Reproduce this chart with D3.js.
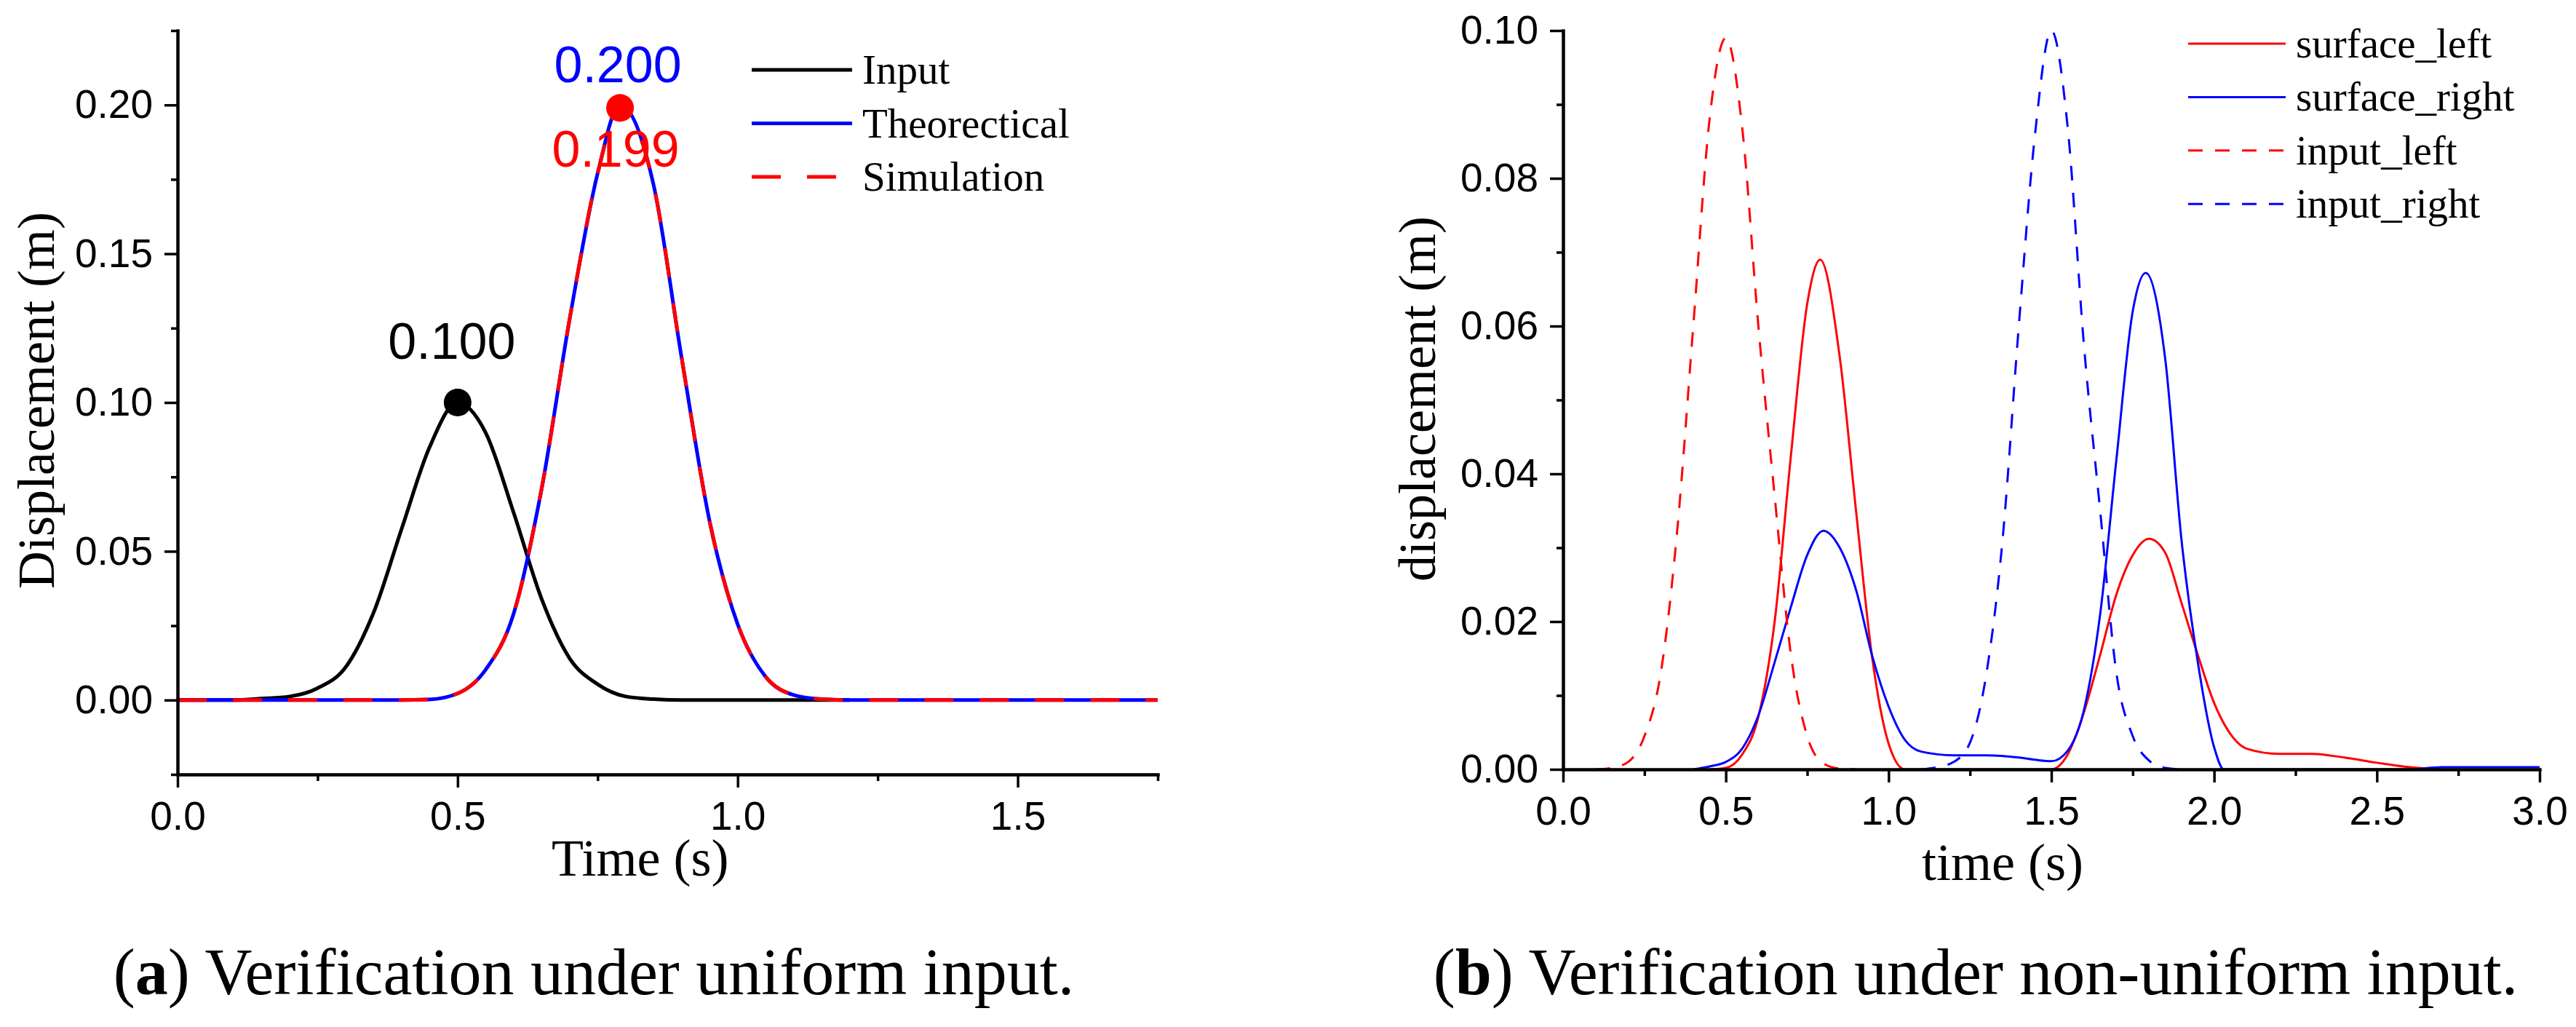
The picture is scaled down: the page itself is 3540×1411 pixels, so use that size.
<!DOCTYPE html>
<html>
<head>
<meta charset="utf-8">
<script src="https://cdn.jsdelivr.net/npm/d3@7"></script>
<style>
  body { margin: 0; background: #fff; }
</style>
</head>
<body>
<div id="chart"></div>
<script>
// ---- panel (a): uniform input ----
let timeInputA = [0, 0.10, 0.15, 0.20, 0.25, 0.30, 0.35, 0.40, 0.45, 0.50, 0.55, 0.60, 0.65, 0.70, 0.75, 0.80, 0.85, 0.90, 1.00, 1.20];
let inputA     = [0, 0, 0.0005, 0.0012, 0.004, 0.011, 0.0294, 0.0575, 0.085, 0.100, 0.0899, 0.063, 0.034, 0.014, 0.0053, 0.0012, 0.0003, 0, 0, 0];

let timeTheoA = [0, 0.40, 0.45, 0.50, 0.55, 0.60, 0.65, 0.70, 0.75, 0.79, 0.85, 0.90, 0.95, 1.00, 1.05, 1.10, 1.15, 1.20, 1.75];
let theoA     = [0, 0, 0.0002, 0.0022, 0.0102, 0.029, 0.071, 0.128, 0.177, 0.200, 0.173, 0.115, 0.060, 0.0255, 0.0078, 0.0017, 0.0003, 0, 0];
let simA      = [0, 0, 0.0002, 0.0022, 0.0102, 0.029, 0.071, 0.128, 0.177, 0.199, 0.173, 0.115, 0.060, 0.0255, 0.0078, 0.0017, 0.0003, 0, 0];

let peakInputA = {t: 0.50, v: 0.100, label: "0.100"};
let peakTheoA  = {t: 0.79, v: 0.200, label: "0.200"};
let peakSimA   = {t: 0.79, v: 0.199, label: "0.199"};

let xTicksA = [0, 0.5, 1.0, 1.5];
let xMinorA = [0.25, 0.75, 1.25, 1.75];
let yTicksA = [0, 0.05, 0.10, 0.15, 0.20];
let yMinorA = [-0.025, 0.025, 0.075, 0.125, 0.175, 0.225];
let legendA = ["Input", "Theorectical", "Simulation"];

// ---- panel (b): non-uniform input ----
let timeInputL = [0.10, 0.15, 0.20, 0.25, 0.30, 0.35, 0.40, 0.45, 0.50, 0.55, 0.60, 0.65, 0.70, 0.75, 0.80, 0.85, 0.90];
let inputLeft  = [0, 0.0002, 0.001, 0.0045, 0.013, 0.032, 0.060, 0.088, 0.099, 0.087, 0.060, 0.037, 0.0155, 0.0045, 0.0008, 0.0001, 0];

let timeInputR = [1.10, 1.15, 1.20, 1.25, 1.30, 1.35, 1.40, 1.45, 1.50, 1.55, 1.60, 1.65, 1.70, 1.75, 1.80, 1.85, 1.90];
let inputRight = [0, 0.0003, 0.001, 0.0036, 0.0128, 0.031, 0.060, 0.086, 0.100, 0.087, 0.0575, 0.035, 0.013, 0.0045, 0.0012, 0.0002, 0];

let timeSurfL   = [0.45, 0.50, 0.55, 0.60, 0.65, 0.70, 0.75, 0.79, 0.85, 0.90, 0.95, 1.00, 1.05, 1.50, 1.55, 1.60, 1.65, 1.70, 1.75, 1.80, 1.85, 1.90, 1.95, 2.00, 2.05, 2.10, 2.20, 2.30, 2.40, 2.50, 2.60, 2.70];
let surfaceLeft = [0, 0.0002, 0.002, 0.0071, 0.020, 0.0425, 0.063, 0.069, 0.0558, 0.035, 0.015, 0.0035, 0, 0, 0.002, 0.0077, 0.0155, 0.0237, 0.029, 0.0312, 0.0293, 0.0225, 0.0155, 0.009, 0.0048, 0.0028, 0.0021, 0.0021, 0.0016, 0.0009, 0.0003, 0];

let timeSurfR    = [0.40, 0.45, 0.50, 0.55, 0.60, 0.65, 0.70, 0.75, 0.80, 0.85, 0.90, 0.95, 1.00, 1.05, 1.10, 1.20, 1.30, 1.40, 1.45, 1.50, 1.55, 1.60, 1.65, 1.70, 1.75, 1.79, 1.85, 1.90, 1.95, 2.00, 2.03, 2.60, 2.70, 3.00];
let surfaceRight = [0, 0.0004, 0.001, 0.0028, 0.0073, 0.0145, 0.022, 0.029, 0.0323, 0.030, 0.0243, 0.0153, 0.0085, 0.004, 0.0024, 0.0019, 0.0019, 0.0016, 0.0013, 0.0011, 0.0025, 0.008, 0.021, 0.042, 0.062, 0.0672, 0.0555, 0.031, 0.0145, 0.003, 0, 0, 0.0003, 0.0003];

let xTicksB = [0, 0.5, 1.0, 1.5, 2.0, 2.5, 3.0];
let xMinorB = [0.25, 0.75, 1.25, 1.75, 2.25, 2.75];
let yTicksB = [0, 0.02, 0.04, 0.06, 0.08, 0.10];
let yMinorB = [0.01, 0.03, 0.05, 0.07, 0.09];
let legendB = ["surface_left", "surface_right", "input_left", "input_right"];

const SANS = "'Liberation Sans', Arial, sans-serif";
const SERIF = "'Liberation Serif', 'Times New Roman', serif";

let svg = d3.select("#chart").append("svg")
    .attr("width", 3540)
    .attr("height", 1411)
    .style("background", "#fff");

function zip(ts, vs) {
    return ts.map((t, i) => ({t: t, v: vs[i]}));
}

function drawLine(g, x, y, pts, color, width, dash) {
    let line = d3.line()
        .x(d => x(d.t))
        .y(d => y(d.v))
        .curve(d3.curveMonotoneX);
    g.append("path")
        .datum(pts)
        .attr("d", line)
        .attr("fill", "none")
        .attr("stroke", color)
        .attr("stroke-width", width)
        .attr("stroke-dasharray", dash || null)
        .attr("stroke-linejoin", "round");
}

function drawAxes(g, x, y, xt, xm, yt, ym, yFmt) {
    let y0 = y.range()[0];
    let x0 = x.range()[0];

    // minor ticks
    g.append("g").attr("transform", `translate(0,${y0})`)
        .call(d3.axisBottom(x).tickValues(xm).tickSize(9).tickSizeOuter(0).tickFormat(""));
    g.append("g").attr("transform", `translate(${x0},0)`)
        .call(d3.axisLeft(y).tickValues(ym).tickSize(9).tickSizeOuter(0).tickFormat(""));

    // major ticks and labels
    g.append("g").attr("transform", `translate(0,${y0})`)
        .call(d3.axisBottom(x).tickValues(xt).tickSize(18).tickSizeOuter(0).tickPadding(19).tickFormat(d3.format(".1f")));
    g.append("g").attr("transform", `translate(${x0},0)`)
        .call(d3.axisLeft(y).tickValues(yt).tickSize(18).tickSizeOuter(0).tickPadding(16).tickFormat(d3.format(yFmt)));

    g.selectAll(".domain").attr("stroke", "#000").attr("stroke-width", 4).attr("stroke-linecap", "square");
    g.selectAll(".tick line").attr("stroke", "#000").attr("stroke-width", 3.5);
    g.selectAll(".tick text")
        .attr("fill", "#000")
        .style("font-family", SANS)
        .style("font-size", "55px");
}

function drawLegend(g, x0, x1, xText, yStart, step, items) {
    items.forEach((it, i) => {
        let yy = yStart + i * step;
        g.append("line")
            .attr("x1", x0).attr("x2", x1)
            .attr("y1", yy).attr("y2", yy)
            .attr("stroke", it.color)
            .attr("stroke-width", it.width)
            .attr("stroke-dasharray", it.dash || null);
        g.append("text")
            .attr("x", xText).attr("y", yy + 19)
            .style("font-family", SERIF)
            .style("font-size", "57px")
            .text(it.name);
    });
}

function drawPanelA() {
    let g = svg.append("g");
    let x = d3.scaleLinear().domain([0, 1.75]).range([244, 1591]);
    let y = d3.scaleLinear().domain([-0.025, 0.225]).range([1064, 42]);

    drawLine(g, x, y, zip(timeInputA, inputA), "#000", 5);
    drawLine(g, x, y, zip(timeTheoA, theoA), "#0000ff", 5);
    drawLine(g, x, y, zip(timeTheoA, simA), "#ff0000", 5, "40,36");

    drawAxes(g, x, y, xTicksA, xMinorA, yTicksA, yMinorA, ".2f");

    // peak markers
    g.append("circle").attr("cx", x(peakInputA.t)).attr("cy", y(peakInputA.v)).attr("r", 19).attr("fill", "#000");
    g.append("circle").attr("cx", x(peakSimA.t)).attr("cy", y(peakSimA.v)).attr("r", 19).attr("fill", "#ff0000");

    g.append("text")
        .attr("x", x(peakInputA.t) - 8).attr("y", y(peakInputA.v) - 60)
        .attr("text-anchor", "middle")
        .style("font-family", SANS).style("font-size", "70px")
        .attr("fill", "#000")
        .text(peakInputA.label);
    g.append("text")
        .attr("x", x(peakTheoA.t) - 3).attr("y", y(peakTheoA.v) - 31)
        .attr("text-anchor", "middle")
        .style("font-family", SANS).style("font-size", "70px")
        .attr("fill", "#0000ff")
        .text(peakTheoA.label);
    g.append("text")
        .attr("x", x(peakSimA.t) - 6).attr("y", y(peakSimA.v) + 81)
        .attr("text-anchor", "middle")
        .style("font-family", SANS).style("font-size", "70px")
        .attr("fill", "#ff0000")
        .text(peakSimA.label);

    // axis titles
    g.append("text")
        .attr("x", 758).attr("y", 1203)
        .style("font-family", SERIF).style("font-size", "72px")
        .text("Time (s)");
    g.append("text")
        .attr("transform", "translate(74,550) rotate(-90)")
        .attr("text-anchor", "middle")
        .style("font-family", SERIF).style("font-size", "72px")
        .text("Displacement (m)");

    drawLegend(g, 1033, 1171, 1185, 96, 73.5, [
        {name: legendA[0], color: "#000", width: 5},
        {name: legendA[1], color: "#0000ff", width: 5},
        {name: legendA[2], color: "#ff0000", width: 5, dash: "40,36"}
    ]);

    let cap = g.append("text")
        .attr("x", 816).attr("y", 1366)
        .attr("text-anchor", "middle")
        .style("font-family", SERIF).style("font-size", "90px");
    cap.append("tspan").text("(");
    cap.append("tspan").attr("font-weight", "bold").text("a");
    cap.append("tspan").text(") Verification under uniform input.");
}

function drawPanelB() {
    let g = svg.append("g");
    let x = d3.scaleLinear().domain([0, 3]).range([2148, 3490]);
    let y = d3.scaleLinear().domain([0, 0.10]).range([1057, 42]);

    drawLine(g, x, y, zip(timeSurfL, surfaceLeft), "#ff0000", 3);
    drawLine(g, x, y, zip(timeSurfR, surfaceRight), "#0000ff", 3);
    drawLine(g, x, y, zip(timeInputL, inputLeft), "#ff0000", 3, "20,17");
    drawLine(g, x, y, zip(timeInputR, inputRight), "#0000ff", 3, "20,17");

    drawAxes(g, x, y, xTicksB, xMinorB, yTicksB, yMinorB, ".2f");

    g.append("text")
        .attr("x", 2641).attr("y", 1209)
        .style("font-family", SERIF).style("font-size", "72px")
        .text("time (s)");
    g.append("text")
        .attr("transform", "translate(1972,548) rotate(-90)")
        .attr("text-anchor", "middle")
        .style("font-family", SERIF).style("font-size", "72px")
        .text("displacement (m)");

    drawLegend(g, 3007, 3141, 3155, 60, 73.4, [
        {name: legendB[0], color: "#ff0000", width: 3},
        {name: legendB[1], color: "#0000ff", width: 3},
        {name: legendB[2], color: "#ff0000", width: 3, dash: "20,17"},
        {name: legendB[3], color: "#0000ff", width: 3, dash: "20,17"}
    ]);

    let cap = g.append("text")
        .attr("x", 2715).attr("y", 1366)
        .attr("text-anchor", "middle")
        .style("font-family", SERIF).style("font-size", "90px");
    cap.append("tspan").text("(");
    cap.append("tspan").attr("font-weight", "bold").text("b");
    cap.append("tspan").text(") Verification under non-uniform input.");
}

drawPanelA();
drawPanelB();
</script>
</body>
</html>
